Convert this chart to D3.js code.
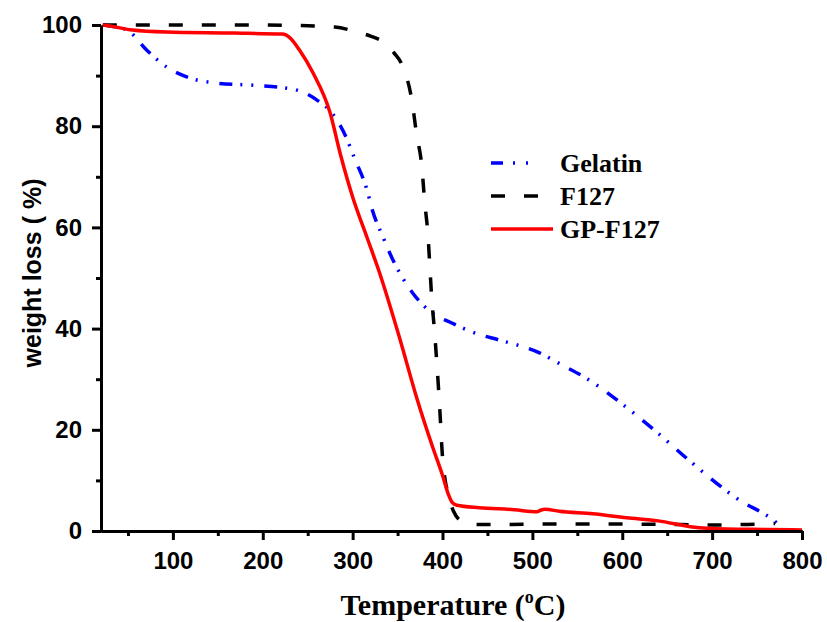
<!DOCTYPE html>
<html>
<head>
<meta charset="utf-8">
<script src="https://cdn.jsdelivr.net/npm/d3@7"></script>
<style>
  body { margin: 0; background: #fff; }
  svg { display: block; }
  .tick text { font-family: "Liberation Sans", Arial, sans-serif; font-weight: bold; font-size: 24px; fill: #000; }
</style>
</head>
<body>
<svg id="chart" width="827" height="622"></svg>
<script>
// ***** Data *****
const gelatinTemp = [22, 30, 49, 71, 93, 116, 149, 189, 234, 260, 277, 293, 302, 316, 322, 334, 345, 355, 367, 389, 408, 438, 464, 508, 533, 558, 597, 638, 678, 727, 772, 777];
const gelatinWeight = [100, 99.8, 99, 95, 91.7, 89.7, 88.5, 88.1, 87.3, 85.2, 82.6, 77.7, 73.7, 67.4, 63.4, 58, 53.5, 50.2, 47, 43, 41.3, 39, 37.7, 35.2, 32.8, 30.4, 25.5, 19.6, 13.4, 6.5, 1.6, 0.8];

const f127Temp = [22, 100, 200, 280, 305, 320, 336, 346, 356, 366, 371, 377, 380, 384, 386, 388, 391, 394, 397, 400, 403, 406, 412, 423, 440, 460, 550, 650, 700, 740, 770];
const f127Weight = [100, 100, 100, 99.6, 98.6, 97.8, 96.4, 94.5, 91.7, 85, 78.6, 72, 65.4, 58, 52, 46, 39.7, 32.4, 24, 14.6, 10, 7.5, 4, 1.8, 1.3, 1.3, 1.4, 1.3, 1.2, 1.3, 1.5];

const gpTemp = [22, 30, 55, 93, 167, 222, 230, 241, 256, 275, 286, 300, 316, 330, 352, 371, 389, 400, 406, 411, 416, 441, 480, 505, 509, 514, 530, 567, 605, 640, 678, 716, 760, 800];
const gpWeight = [100, 99.8, 99, 98.6, 98.4, 98.2, 97.5, 95, 90.5, 82.6, 74.7, 66, 58, 51, 38.3, 26.5, 16.6, 11, 7.5, 5.6, 5.1, 4.6, 4.2, 3.8, 4.1, 4.3, 3.9, 3.4, 2.6, 2.0, 0.8, 0.4, 0.3, 0.2];

const seriesNames = ["Gelatin", "F127", "GP-F127"];
const xMajorTicks = [100, 200, 300, 400, 500, 600, 700, 800];
const xMinorTicks = [50, 150, 250, 350, 450, 550, 650, 750];
const yMajorTicks = [0, 20, 40, 60, 80, 100];
const yMinorTicks = [10, 30, 50, 70, 90];

// ***** Setup *****
const svg = d3.select("#chart");
const xScale = d3.scaleLinear().domain([20, 800]).range([101, 802]);
const yScale = d3.scaleLinear().domain([0, 100]).range([531, 25]);

const series = [
  { name: seriesNames[0], temp: gelatinTemp, weight: gelatinWeight, color: "#0000ff", dash: "13,8,2,9,2,11", legendDash: "12,10,2,11,2,40", width: 3.5 },
  { name: seriesNames[1], temp: f127Temp, weight: f127Weight, color: "#000000", dash: "14,19", legendDash: "14,19", width: 3.5 },
  { name: seriesNames[2], temp: gpTemp, weight: gpWeight, color: "#ff0000", dash: null, legendDash: null, width: 3.5 }
];

const line = d3.line()
  .x(function(d) { return xScale(d[0]); })
  .y(function(d) { return yScale(d[1]); })
  .curve(d3.curveMonotoneX);

// ***** Draw the curves *****
series.forEach(function(s) {
  svg.append("path")
    .datum(d3.zip(s.temp, s.weight))
    .attr("fill", "none")
    .attr("stroke", s.color)
    .attr("stroke-width", s.width)
    .attr("stroke-dasharray", s.dash)
    .attr("stroke-linejoin", "round")
    .attr("d", line);
});

// ***** Axes *****
function styleAxis(g) {
  g.select(".domain").attr("stroke", "#000").attr("stroke-width", 3);
  g.selectAll(".tick line").attr("stroke", "#000").attr("stroke-width", 3);
}

svg.append("g")
  .attr("transform", "translate(0,531)")
  .call(d3.axisBottom(xScale).tickValues(xMinorTicks).tickSize(5).tickSizeOuter(0).tickFormat(""))
  .call(styleAxis);

svg.append("g")
  .attr("transform", "translate(0,531)")
  .call(d3.axisBottom(xScale).tickValues(xMajorTicks).tickSize(9).tickSizeOuter(0).tickPadding(12))
  .call(styleAxis);

svg.append("g")
  .attr("transform", "translate(101,0)")
  .call(d3.axisLeft(yScale).tickValues(yMinorTicks).tickSize(5).tickSizeOuter(0).tickFormat(""))
  .call(styleAxis);

svg.append("g")
  .attr("transform", "translate(101,0)")
  .call(d3.axisLeft(yScale).tickValues(yMajorTicks).tickSize(9).tickSizeOuter(0).tickPadding(10))
  .call(styleAxis);

// ***** Axis titles *****
const xTitle = svg.append("text")
  .attr("x", 453)
  .attr("y", 615)
  .attr("text-anchor", "middle")
  .style("font-family", "'Liberation Serif', 'Times New Roman', serif")
  .style("font-weight", "bold")
  .style("font-size", "30px");
xTitle.append("tspan").text("Temperature (");
xTitle.append("tspan").attr("dy", -12).style("font-size", "18px").text("o");
xTitle.append("tspan").attr("dy", 12).text("C)");

svg.append("text")
  .attr("transform", "translate(41,273) rotate(-90)")
  .attr("text-anchor", "middle")
  .style("font-family", "'Liberation Sans', Arial, sans-serif")
  .style("font-weight", "bold")
  .style("font-size", "25px")
  .text("weight loss ( %)");

// ***** Legend *****
const legend = svg.selectAll(".legendItem")
  .data(series)
  .enter()
  .append("g")
  .attr("class", "legendItem")
  .attr("transform", function(d, i) { return "translate(491," + (163 + i * 33) + ")"; });

legend.append("line")
  .attr("x1", 0)
  .attr("x2", 62)
  .attr("stroke", function(d) { return d.color; })
  .attr("stroke-width", function(d) { return d.width; })
  .attr("stroke-dasharray", function(d) { return d.legendDash; });

legend.append("text")
  .attr("x", 69)
  .attr("y", 9)
  .style("font-family", "'Liberation Serif', 'Times New Roman', serif")
  .style("font-weight", "bold")
  .style("font-size", "26px")
  .text(function(d) { return d.name; });
</script>
</body>
</html>
